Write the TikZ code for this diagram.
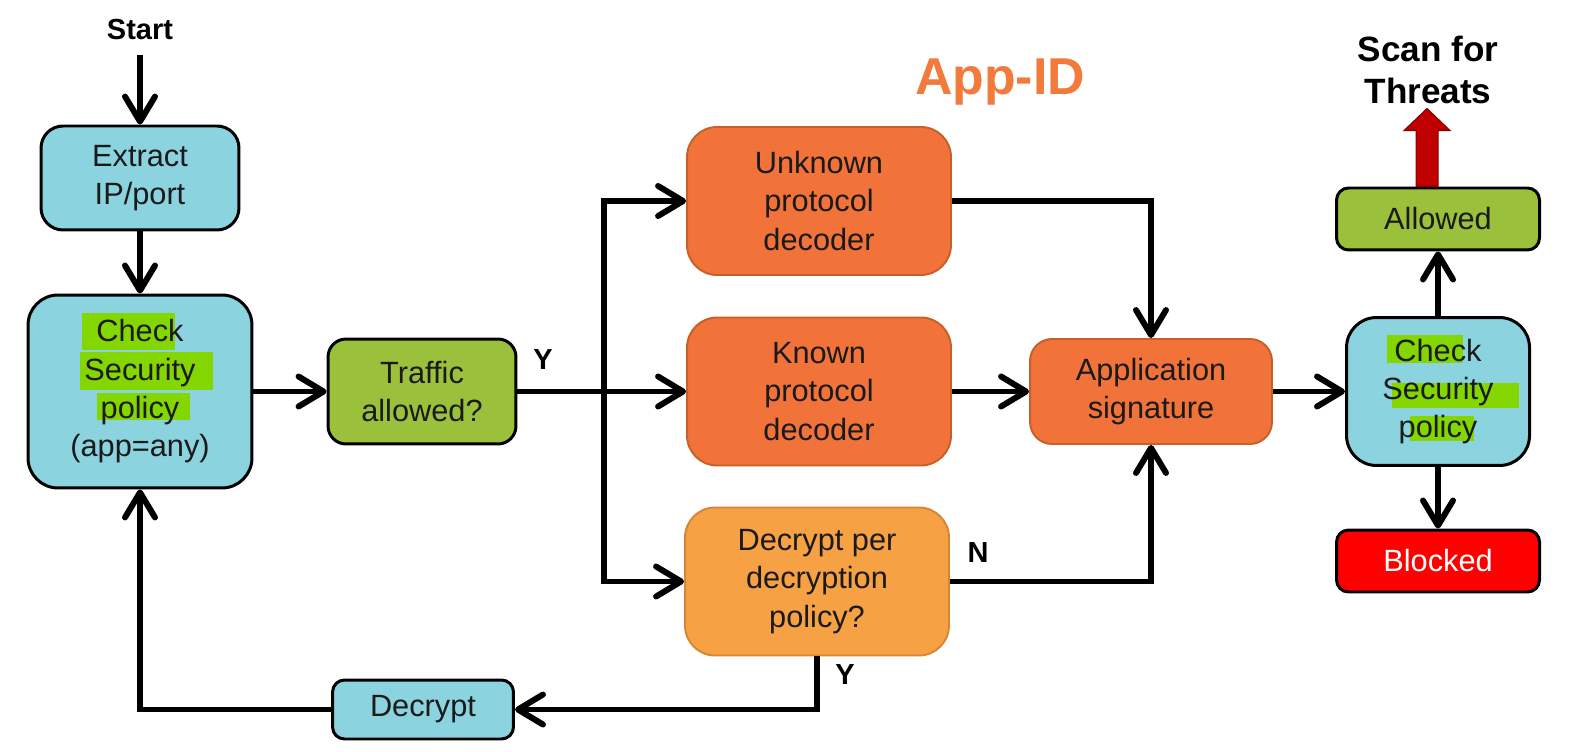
\documentclass[tikz,border=0pt]{standalone}
\usepackage{fontspec}
\setmainfont{Liberation Sans}
\usetikzlibrary{arrows.meta}

\definecolor{idblue}{RGB}{139,211,223}
\definecolor{idgreen}{RGB}{155,193,60}
\definecolor{idorange}{RGB}{242,115,58}
\definecolor{idorangeline}{RGB}{196,96,40}
\definecolor{idpeach}{RGB}{247,161,69}
\definecolor{idpeachline}{RGB}{214,134,50}
\definecolor{idred}{RGB}{255,0,0}
\definecolor{hlgreen}{RGB}{132,214,0}
\definecolor{threatred}{RGB}{192,0,0}
\definecolor{threatline}{RGB}{130,0,0}
\definecolor{appidorange}{RGB}{242,122,60}
\definecolor{boxtext}{RGB}{26,26,26}

\begin{document}
\begin{tikzpicture}[x=0.02cm, y=0.02cm,
  box/.style={draw, line width=1.7pt, align=center, inner sep=0pt, text=boxtext,
    font=\fontsize{17.5}{21.8}\selectfont},
  bluebox/.style={box, fill=idblue},
  greenbox/.style={box, fill=idgreen},
  decoder/.style={box, fill=idorange, draw=idorangeline, line width=1.1pt,
    rounded corners=0.6cm, minimum width=5.28cm, minimum height=2.96cm},
  lbl/.style={font=\bfseries\fontsize{16.5}{20}\selectfont},
  flow/.style={line width=3.4pt, -{Straight Barb[length=5mm,width=6mm,round]}}]
  \useasboundingbox (0,0) rectangle (1594,751);

  \node[lbl, inner sep=0pt] (start) at (140,721) {Start};
  \node[bluebox, rounded corners=0.44cm, minimum width=3.96cm, minimum height=2.08cm]
    (extract) at (140,573) {Extract\\IP/port};

  % first policy check, highlighted words
  \node[bluebox, rounded corners=0.6cm, minimum width=4.48cm, minimum height=3.86cm]
    (check1) at (140,359.5) {};
  \fill[hlgreen] (82,438) rectangle (175,401);
  \fill[hlgreen] (80,399) rectangle (213,361);
  \fill[hlgreen] (97,358) rectangle (190,331);
  \node[box, draw=none] at (check1) {Check\\Security\\policy\\(app=any)};

  \node[greenbox, rounded corners=0.36cm, minimum width=3.76cm, minimum height=2.1cm]
    (traffic) at (422,359.5) {Traffic\\allowed?};

  \node[decoder] (unknown) at (819,550) {Unknown\\protocol\\decoder};
  \node[decoder] (known) at (819,359.5) {Known\\protocol\\decoder};
  \node[decoder, fill=idpeach, draw=idpeachline] (decryptq) at (817,169.5)
    {Decrypt per\\decryption\\policy?};
  \node[box, fill=idorange, draw=idorangeline, line width=1.1pt, rounded corners=0.44cm,
    minimum width=4.84cm, minimum height=2.1cm] (appsig) at (1151,359.5)
    {Application\\signature};

  % second policy check
  \node[bluebox, rounded corners=0.6cm, minimum width=3.66cm, minimum height=2.96cm]
    (check2) at (1438,359.5) {};
  \fill[hlgreen] (1387,416) rectangle (1463,388);
  \fill[hlgreen] (1392,368) rectangle (1519,343);
  \fill[hlgreen] (1410,335) rectangle (1474,310);
  \node[box, draw=none] at (check2) {Check\\Security\\policy};

  \node[greenbox, rounded corners=0.24cm, minimum width=4.06cm, minimum height=1.24cm]
    (allowed) at (1438,532) {Allowed};
  \node[box, fill=idred, text=white, rounded corners=0.24cm, minimum width=4.06cm,
    minimum height=1.24cm] (blocked) at (1438,190) {Blocked};
  \node[bluebox, rounded corners=0.24cm, minimum width=3.62cm, minimum height=1.18cm]
    (decrypt) at (423,41.5) {Decrypt};

  \node[font=\bfseries\fontsize{29.5}{32}\selectfont, text=appidorange] (appid) at (1000,669) {App-ID};
  \node[font=\bfseries\fontsize{20}{24}\selectfont, align=center] (scan) at (1428,681) {Scan for\\Threats};
  \node[lbl] (yes1) at (543,391) {Y};
  \node[lbl] (no) at (978,198) {N};
  \node[lbl] (yes2) at (845,76) {Y};

  \coordinate (fork) at (604,359.5);

  \draw[flow, shorten <=0.28cm] (start) -- (extract);
  \draw[flow] (extract) -- (check1);
  \draw[flow] (check1) -- (traffic);
  \draw[flow] (traffic) -- (known);
  \draw[flow] (fork) |- (unknown);
  \draw[flow] (fork) |- (decryptq);
  \draw[flow] (unknown) -| (appsig);
  \draw[flow] (known) -- (appsig);
  \draw[flow] (decryptq) -| (appsig);
  \draw[flow] (decryptq) |- (decrypt);
  \draw[flow] (decrypt) -| (check1);
  \draw[flow] (appsig) -- (check2);
  \draw[flow] (check2) -- (allowed);
  \draw[flow] (check2) -- (blocked);

  \filldraw[fill=threatred, draw=threatline, line width=0.6pt]
    ([xshift=-0.44cm]allowed.north) -- ++(0,56) -- ++(-12,0) -- ++(23,22)
    -- ++(23,-22) -- ++(-12,0) -- ++(0,-56) -- cycle;
\end{tikzpicture}
\end{document}
